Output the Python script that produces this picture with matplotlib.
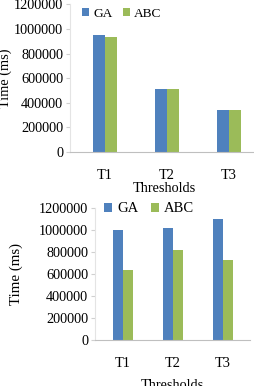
import matplotlib
matplotlib.use("Agg")
import matplotlib.pyplot as plt
import numpy as np

categories = ["T1", "T2", "T3"]
top_ga = [955000, 515000, 340000]
top_abc = [935000, 515000, 340000]
bot_ga = [1005000, 1025000, 1100000]
bot_abc = [635000, 820000, 730000]
yticks = [0, 200000, 400000, 600000, 800000, 1000000, 1200000]
series_names = ["GA", "ABC"]

BLUE = "#4F81BD"
GREEN = "#9BBB59"
AXC = "#BFBFBF"
FS = 10.3

plt.rcParams["font.family"] = ["Liberation Serif", "DejaVu Serif"]

fig = plt.figure(figsize=(2.55, 3.86), dpi=100)
W, H = 255, 386


def px_axes(x0, x1, ybot, ytop):
    return fig.add_axes([x0 / W, 1 - ybot / H, (x1 - x0) / W, (ybot - ytop) / H])


def style(ax, xlim):
    ax.set_xlim(*xlim)
    ax.set_ylim(0, 1200000)
    ax.set_yticks(yticks)
    ax.set_yticklabels([str(v) for v in yticks], fontsize=FS)
    ax.set_xticks(range(len(categories)))
    ax.set_xticklabels(categories, fontsize=FS)
    for s in ["top", "right"]:
        ax.spines[s].set_visible(False)
    ax.spines["bottom"].set_color(AXC)
    ax.spines["left"].set_color("#E4E4E4")
    ax.tick_params(axis="x", length=0, pad=12)
    ax.tick_params(axis="y", length=3, color="#D0D0D0", pad=2)


x = np.arange(len(categories))

# top chart: axes spans x 70..258 px, y 4.4..152 px
ax1 = px_axes(70, 258, 152, 4.4)
bw = 0.19
ax1.bar(x - bw / 2, top_ga, bw, color=BLUE, label=series_names[0])
ax1.bar(x + bw / 2, top_abc, bw, color=GREEN, label=series_names[1])
style(ax1, (-0.565, 2.47))
ax1.set_ylabel("Time (ms)", fontsize=FS)
ax1.yaxis.set_label_coords((12 - 70) / 188, 0.5)
ax1.set_xlabel("Thresholds", fontsize=FS, labelpad=0)
ax1.legend(loc="upper left", bbox_to_anchor=(0.064, 0.975), ncol=2, frameon=False,
           fontsize=9.6, handlelength=0.55, handleheight=0.55, handletextpad=0.3,
           columnspacing=0.75, borderaxespad=0, borderpad=0)

# bottom chart: axes spans x 95..250 px, y 208.3..340 px
ax2 = px_axes(95, 250, 340, 208.3)
bw2 = 0.2
ax2.bar(x - bw2 / 2, bot_ga, bw2, color=BLUE, label=series_names[0])
ax2.bar(x + bw2 / 2, bot_abc, bw2, color=GREEN, label=series_names[1])
style(ax2, (-0.56, 2.54))
ax2.set_ylabel("Time (ms)", fontsize=FS + 0.5)
ax2.yaxis.set_label_coords((23 - 95) / 155, 0.5)
ax2.set_xlabel("Thresholds", fontsize=FS, labelpad=7)
ax2.legend(loc="upper left", bbox_to_anchor=(0.058, 1.045), ncol=2, frameon=False,
           fontsize=FS + 0.2, handlelength=0.55, handleheight=0.55, handletextpad=0.35,
           columnspacing=0.85, borderaxespad=0, borderpad=0)

fig.savefig("out.png", dpi=100)
